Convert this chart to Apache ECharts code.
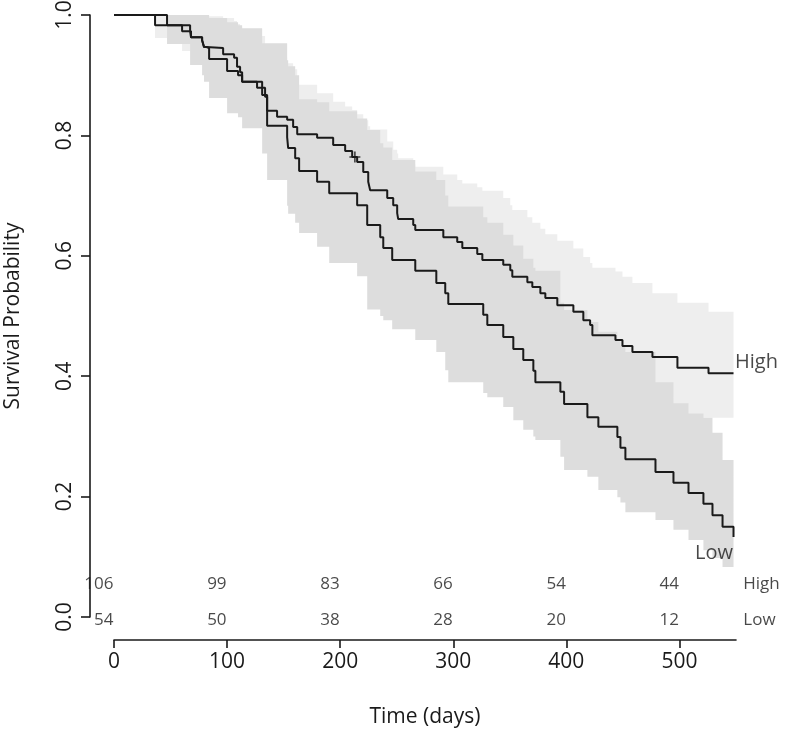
<!DOCTYPE html>
<html><head><meta charset="utf-8">
<script src="https://cdn.jsdelivr.net/npm/echarts@6/dist/echarts.min.js"></script>
<style>html,body{margin:0;padding:0;background:#fff}#c{width:788px;height:732px}</style>
</head><body><div id="c"></div>
<script>
// ---- data (days, survival probability) ----
const highTime = [0, 36.3, 60.2, 68.1, 77.9, 79.6, 81.4, 96.5, 106.2, 108.8, 111.5, 113.3, 126.5, 133.6, 135.4, 144.2, 153.1, 158.4, 162, 179.6, 193.8, 204.4, 210.6, 215, 220.4, 224.8, 226.5, 241.6, 246.9, 250.4, 251.3, 264.6, 266.4, 291.2, 303.5, 308, 321.2, 325.7, 344.2, 350.4, 352.2, 365.5, 369.9, 377, 381.4, 392, 406.2, 415, 421, 423, 443.4, 449.6, 458.4, 476.1, 498.2, 525.7, 547.8];
const highSurv = [1.0, 0.983, 0.973, 0.963, 0.958, 0.947, 0.945, 0.935, 0.929, 0.914, 0.905, 0.889, 0.879, 0.864, 0.841, 0.831, 0.826, 0.814, 0.802, 0.796, 0.784, 0.774, 0.764, 0.756, 0.739, 0.723, 0.709, 0.696, 0.684, 0.671, 0.661, 0.651, 0.643, 0.631, 0.623, 0.613, 0.603, 0.593, 0.585, 0.576, 0.565, 0.556, 0.548, 0.538, 0.530, 0.518, 0.507, 0.493, 0.485, 0.468, 0.460, 0.450, 0.440, 0.432, 0.414, 0.405, 0.405];
const highUpper = [1.0, 1.0, 1.0, 1.0, 1.0, 1.0, 0.998, 0.995, 0.99, 0.985, 0.98, 0.975, 0.965, 0.95, 0.935, 0.93, 0.92, 0.91, 0.884, 0.87, 0.856, 0.848, 0.842, 0.835, 0.825, 0.815, 0.81, 0.79, 0.776, 0.77, 0.762, 0.752, 0.748, 0.735, 0.726, 0.72, 0.714, 0.708, 0.696, 0.684, 0.676, 0.664, 0.655, 0.645, 0.636, 0.625, 0.612, 0.598, 0.588, 0.58, 0.574, 0.565, 0.555, 0.538, 0.522, 0.507, 0.507];
const highLower = [1.0, 0.962, 0.94, 0.928, 0.92, 0.905, 0.9, 0.89, 0.88, 0.862, 0.852, 0.835, 0.822, 0.806, 0.78, 0.77, 0.762, 0.748, 0.735, 0.728, 0.715, 0.703, 0.692, 0.683, 0.665, 0.648, 0.632, 0.618, 0.605, 0.591, 0.58, 0.57, 0.561, 0.548, 0.539, 0.528, 0.518, 0.507, 0.498, 0.488, 0.476, 0.466, 0.458, 0.447, 0.438, 0.426, 0.414, 0.399, 0.39, 0.372, 0.364, 0.353, 0.345, 0.338, 0.331, 0.331, 0.331];

const lowTime = [0, 46.9, 67.3, 68.1, 77.9, 79.6, 81.4, 84.1, 100, 109.7, 113.3, 131, 135.4, 153.1, 154, 160.2, 163.7, 179.6, 190.3, 215, 223.9, 235.4, 238.1, 246, 266.4, 285, 292.9, 295.6, 326.5, 330.1, 344.2, 353.1, 361.9, 370.8, 372.6, 394.7, 398, 418.6, 428.3, 445.1, 447.8, 452.2, 478.8, 494.7, 508, 521.2, 529.2, 538.1, 547.8];
const lowSurv = [1.0, 0.983, 0.973, 0.963, 0.958, 0.947, 0.945, 0.927, 0.907, 0.900, 0.889, 0.867, 0.816, 0.797, 0.779, 0.762, 0.741, 0.723, 0.704, 0.684, 0.651, 0.631, 0.613, 0.593, 0.575, 0.555, 0.538, 0.520, 0.502, 0.485, 0.465, 0.445, 0.427, 0.409, 0.390, 0.374, 0.354, 0.332, 0.316, 0.299, 0.281, 0.262, 0.241, 0.223, 0.206, 0.188, 0.169, 0.150, 0.133];
const lowUpper = [1.0, 1.0, 1.0, 1.0, 1.0, 1.0, 1.0, 0.995, 0.988, 0.983, 0.978, 0.953, 0.953, 0.925, 0.915, 0.9, 0.86, 0.855, 0.84, 0.828, 0.809, 0.787, 0.78, 0.759, 0.74, 0.726, 0.70, 0.682, 0.664, 0.655, 0.635, 0.617, 0.595, 0.58, 0.575, 0.522, 0.51, 0.49, 0.474, 0.458, 0.45, 0.44, 0.39, 0.355, 0.338, 0.331, 0.306, 0.261, 0.261];
const lowLower = [1.0, 0.952, 0.917, 0.917, 0.9, 0.889, 0.889, 0.862, 0.837, 0.83, 0.812, 0.77, 0.726, 0.683, 0.67, 0.655, 0.638, 0.615, 0.588, 0.566, 0.511, 0.5, 0.493, 0.478, 0.46, 0.44, 0.41, 0.39, 0.372, 0.365, 0.349, 0.327, 0.311, 0.3, 0.294, 0.266, 0.244, 0.233, 0.211, 0.199, 0.19, 0.174, 0.161, 0.145, 0.128, 0.111, 0.098, 0.083, 0.07];

const censorHigh = [[213, 0.764]];
const riskTimes = [0, 100, 200, 300, 400, 500];
const highRisk = [106, 99, 83, 66, 54, 44];
const lowRisk = [54, 50, 38, 28, 20, 12];
const groupNames = ['High', 'Low'];
const xTicks = [0, 100, 200, 300, 400, 500];

// ---- layout / style ----
const FONT = 'Open Sans';
const INK = '#1a1a1a';
const Y_MIN = -0.0382;
const ROW_HIGH = 0.0548, ROW_LOW = -0.005, RIGHT_X = 556;

function bandRender(times, up, lo, fill) {
  return function (params, api) {
    const pts = [];
    const n = times.length;
    for (let i = 0; i < n; i++) {
      pts.push(api.coord([times[i], up[i]]));
      if (i < n - 1) pts.push(api.coord([times[i + 1], up[i]]));
    }
    for (let i = n - 1; i >= 0; i--) {
      if (i < n - 1) pts.push(api.coord([times[i + 1], lo[i]]));
      pts.push(api.coord([times[i], lo[i]]));
    }
    return { type: 'polygon', shape: { points: pts }, style: { fill: fill, stroke: null } };
  };
}
const zip = (a, b) => a.map((v, i) => [v, b[i]]);
const hidden = { color: 'rgba(0,0,0,0)' };

const chart = echarts.init(document.getElementById('c'), null, { renderer: 'canvas' });
const option = {
  animation: false,
  backgroundColor: '#fff',
  textStyle: { fontFamily: FONT, color: INK },
  grid: [
    { left: 90, top: 15, bottom: 115, width: 20, containLabel: false, outerBoundsMode: 'none' },
    { left: 114, right: 52, top: 15, bottom: 92, containLabel: false, outerBoundsMode: 'none' }
  ],
  xAxis: [
    { gridIndex: 0, type: 'value', show: false, min: 0, max: 1 },
    {
      gridIndex: 1, type: 'value', min: 0, max: 550, interval: 100,
      axisLine: { onZero: false, lineStyle: { color: INK, width: 1.6 } },
      axisTick: { show: true, length: 8, customValues: xTicks, lineStyle: { color: INK, width: 1.6 } },
      axisLabel: { customValues: xTicks, fontSize: 21, color: INK, margin: 12, fontFamily: FONT },
      splitLine: { show: false },
      name: 'Time (days)', nameLocation: 'middle', nameGap: 67,
      nameTextStyle: { fontSize: 21, color: INK, fontFamily: FONT }
    }
  ],
  yAxis: [
    {
      gridIndex: 0, type: 'value', min: 0, max: 1, interval: 0.2,
      axisLine: { show: true, onZero: false, lineStyle: { color: INK, width: 1.6 } },
      axisTick: { show: true, length: 9, lineStyle: { color: INK, width: 1.6 } },
      axisLabel: { rotate: 90, fontSize: 21, color: INK, margin: 14, fontFamily: FONT, formatter: v => v.toFixed(1) },
      splitLine: { show: false },
      name: 'Survival Probability', nameLocation: 'middle', nameGap: 66,
      nameTextStyle: { fontSize: 21, color: INK, fontFamily: FONT }
    },
    { gridIndex: 1, type: 'value', min: Y_MIN, max: 1, show: false }
  ],
  series: [
    { type: 'custom', xAxisIndex: 1, yAxisIndex: 1, z: 1, silent: true, data: [[0, 0]],
      renderItem: bandRender(highTime, highUpper, highLower, '#eeeeee') },
    { type: 'custom', xAxisIndex: 1, yAxisIndex: 1, z: 2, silent: true, data: [[0, 0]],
      renderItem: bandRender(lowTime, lowUpper, lowLower, '#dddddd') },
    { type: 'line', name: groupNames[0], xAxisIndex: 1, yAxisIndex: 1, z: 3, step: 'end', symbol: 'none',
      data: zip(highTime, highSurv), lineStyle: { color: INK, width: 2 } },
    { type: 'line', name: groupNames[1], xAxisIndex: 1, yAxisIndex: 1, z: 3, step: 'end', symbol: 'none',
      data: zip(lowTime, lowSurv), lineStyle: { color: INK, width: 2 } },
    { type: 'scatter', xAxisIndex: 1, yAxisIndex: 1, z: 4, data: censorHigh,
      symbol: 'path://M0,5L10,5M5,0L5,10', symbolSize: 11,
      itemStyle: { color: 'none', borderColor: INK, borderWidth: 1.6 } },
    { type: 'scatter', xAxisIndex: 1, yAxisIndex: 1, z: 4, clip: false, symbolSize: 1, itemStyle: hidden,
      data: riskTimes.map((t, i) => ({ value: [t, ROW_HIGH], name: String(highRisk[i]) })),
      label: { show: true, position: 'left', distance: 0, formatter: p => p.name, fontSize: 17, color: INK, fontFamily: FONT } },
    { type: 'scatter', xAxisIndex: 1, yAxisIndex: 1, z: 4, clip: false, symbolSize: 1, itemStyle: hidden,
      data: riskTimes.map((t, i) => ({ value: [t, ROW_LOW], name: String(lowRisk[i]) })),
      label: { show: true, position: 'left', distance: 0, formatter: p => p.name, fontSize: 17, color: INK, fontFamily: FONT } },
    { type: 'scatter', xAxisIndex: 1, yAxisIndex: 1, z: 4, clip: false, symbolSize: 1, itemStyle: hidden,
      data: [{ value: [RIGHT_X, ROW_HIGH], name: groupNames[0] }, { value: [RIGHT_X, ROW_LOW], name: groupNames[1] }],
      label: { show: true, position: 'right', distance: 0, formatter: p => p.name, fontSize: 17, color: INK, fontFamily: FONT } },
    { type: 'scatter', xAxisIndex: 1, yAxisIndex: 1, z: 4, clip: false, symbolSize: 1, itemStyle: hidden,
      data: [
        { value: [highTime[highTime.length - 1], highSurv[highSurv.length - 1]], name: groupNames[0],
          label: { position: 'right', distance: 1, offset: [0, -11] } },
        { value: [lowTime[lowTime.length - 1], lowSurv[lowSurv.length - 1]], name: groupNames[1],
          label: { position: 'left', distance: 0, offset: [0, 16] } }
      ],
      label: { show: true, formatter: p => p.name, fontSize: 20, color: INK, fontFamily: FONT } }
  ]
};
chart.setOption(option);
</script>
</body></html>
